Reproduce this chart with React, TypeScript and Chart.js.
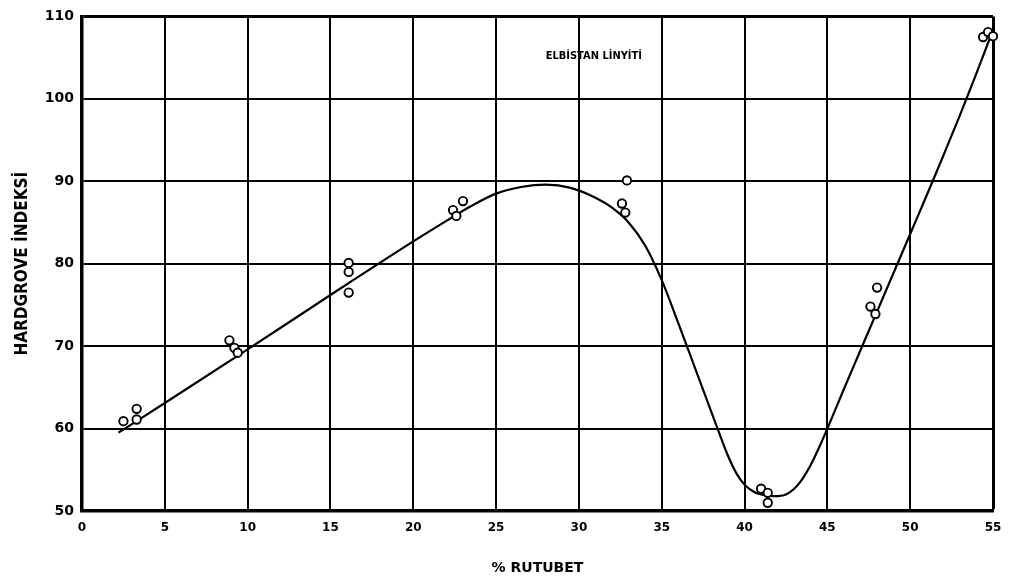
import { useEffect, useRef } from "react";
import { Chart, registerables } from "chart.js";

Chart.register(...registerables);

const xTicks = [0, 5, 10, 15, 20, 25, 30, 35, 40, 45, 50, 55];
const yTicks = [50, 60, 70, 80, 90, 100, 110];

const sampleX = [2.5, 3.3, 3.3, 8.9, 9.2, 9.4, 16.1, 16.1, 16.1, 22.4, 22.6, 23.0, 32.6, 32.8, 32.9, 41.0, 41.4, 41.4, 47.6, 47.9, 48.0, 54.4, 54.7, 55.0];
const sampleY = [60.9, 62.4, 61.1, 70.7, 69.8, 69.2, 80.1, 79.0, 76.5, 86.5, 85.8, 87.6, 87.3, 86.2, 90.1, 52.7, 52.2, 51.0, 74.8, 73.9, 77.1, 107.5, 108.1, 107.6];

const curveX = [2.2, 5, 10, 15, 20, 22, 23.5, 25, 26.5, 28, 29.5, 31, 32, 33, 34, 35, 36, 37, 38, 38.5, 39, 39.5, 40, 40.5, 41, 41.8, 42.5, 43, 43.5, 44, 44.5, 45, 46, 47, 48, 49, 50, 51, 52, 53, 54, 54.8];
const curveY = [59.5, 63.1, 69.6, 76.2, 82.7, 85.2, 87.0, 88.5, 89.3, 89.6, 89.2, 88.0, 86.8, 85.0, 82.2, 78.0, 72.8, 67.4, 62.0, 59.3, 56.7, 54.6, 53.2, 52.4, 52.0, 51.8, 52.0, 52.7, 53.9, 55.6, 57.7, 60.0, 64.8, 69.5, 74.2, 78.9, 83.6, 88.3, 93.1, 98.0, 103.1, 107.3];

const chartTitle = "ELBİSTAN LİNYİTİ";
const xTitle = "% RUTUBET";
const yTitle = "HARDGROVE İNDEKSİ";

const condensed = '"DejaVu Sans Condensed", "Liberation Sans Narrow", "DejaVu Sans", sans-serif';

export default function App() {
  const ref = useRef<HTMLCanvasElement | null>(null);

  useEffect(() => {
    if (!ref.current) return;
    const titlePlugin = {
      id: "innerTitle",
      afterDraw(chart: any) {
        const { ctx, scales } = chart;
        const px = scales.x.getPixelForValue(30.9);
        const py = scales.y.getPixelForValue(105.2);
        ctx.save();
        ctx.font = `bold 11px ${condensed}`;
        ctx.fillStyle = "#000";
        ctx.textAlign = "center";
        ctx.textBaseline = "middle";
        ctx.fillText(chartTitle, px, py);
        ctx.restore();
      },
    };

    const chart = new Chart(ref.current, {
      type: "scatter",
      data: {
        datasets: [
          {
            label: "Ölçüm",
            data: sampleX.map((x, i) => ({ x, y: sampleY[i] })),
            pointRadius: 4.2,
            pointBorderWidth: 1.9,
            pointBackgroundColor: "#fff",
            pointBorderColor: "#000",
            showLine: false,
            clip: false,
          } as any,
          {
            label: "Eğri",
            data: curveX.map((x, i) => ({ x, y: curveY[i] })),
            showLine: true,
            pointRadius: 0,
            borderColor: "#000",
            borderWidth: 2.2,
            cubicInterpolationMode: "monotone",
            fill: false,
          } as any,
        ],
      },
      options: {
        responsive: false,
        animation: false,
        layout: { padding: { left: 0, top: 10, right: 20, bottom: 0 } },
        plugins: {
          legend: { display: false },
          tooltip: { enabled: false },
          title: { display: false },
        },
        scales: {
          x: {
            type: "linear",
            min: 0,
            max: 55,
            afterBuildTicks: (s: any) => {
              s.ticks = xTicks.map((v) => ({ value: v }));
            },
            afterFit: (s: any) => {
              s.height = 77;
            },
            grid: {
              color: "#000",
              lineWidth: (c: any) => (c.tick && c.tick.value === 55 ? 3 : 2),
              drawTicks: false,
            },
            border: { display: true, color: "#000", width: 3.5 },
            ticks: {
              padding: 10,
              color: "#000",
              maxRotation: 0,
              autoSkip: false,
              font: { family: "DejaVu Sans", weight: "bold", size: 12 },
            },
            title: {
              display: true,
              text: xTitle,
              color: "#000",
              font: { family: "DejaVu Sans", weight: "bold", size: 14 },
              padding: { top: 0, bottom: 11 },
            },
          },
          y: {
            type: "linear",
            min: 50,
            max: 110,
            afterBuildTicks: (s: any) => {
              s.ticks = yTicks.map((v) => ({ value: v }));
            },
            afterFit: (s: any) => {
              s.width = 82;
            },
            grid: {
              color: "#000",
              lineWidth: (c: any) => (c.tick && c.tick.value === 110 ? 3 : 2),
              drawTicks: false,
            },
            border: { display: true, color: "#000", width: 3.5 },
            ticks: {
              padding: 8,
              color: "#000",
              autoSkip: false,
              font: { family: "DejaVu Sans", weight: "bold", size: 14 },
            },
            title: {
              display: true,
              text: yTitle,
              color: "#000",
              font: { family: condensed, weight: "bold", size: 17 },
              padding: { top: 12, bottom: 0 },
            },
          },
        },
      } as any,
      plugins: [titlePlugin],
    });
    return () => chart.destroy();
  }, []);

  return (
    <div style={{ position: "absolute", left: 0, top: 0, width: 1013, height: 588, background: "#fff" }}>
      <canvas ref={ref} width={1013} height={588} style={{ display: "block" }} />
    </div>
  );
}
